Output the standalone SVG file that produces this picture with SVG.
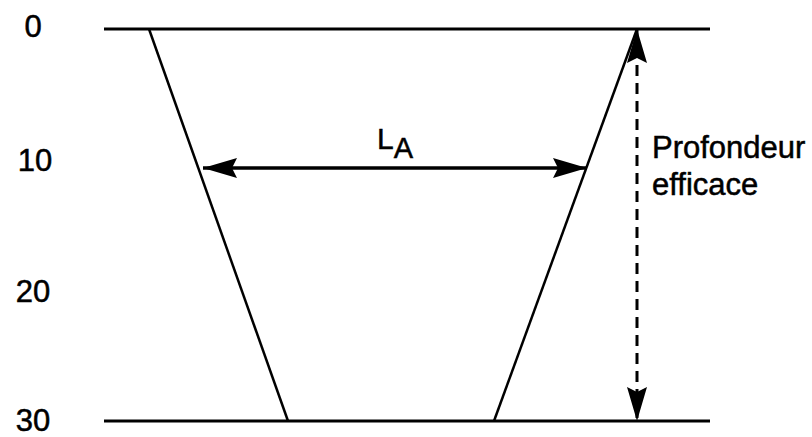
<svg xmlns="http://www.w3.org/2000/svg" width="812" height="437" viewBox="0 0 812 437">
<style>
.ln{stroke:#000;fill:none;stroke-linecap:butt}
.t{font-family:"Liberation Sans",Arial,sans-serif;fill:#000;stroke:#000;stroke-width:0.5}
</style>
<defs>
<marker id="ah" viewBox="0 0 34 20" refX="34" refY="10" markerWidth="34" markerHeight="20" markerUnits="userSpaceOnUse" orient="auto-start-reverse">
<path d="M0,0 L34,10 L0,20 L5,10 Z" fill="#000"/>
</marker>
</defs>
<rect width="812" height="437" fill="#fff"/>
<g id="axis-labels">
<text class="t" x="33" y="37" font-size="31" text-anchor="middle">0</text>
<text class="t" x="35" y="171" font-size="31" text-anchor="middle">10</text>
<text class="t" x="33" y="302" font-size="31" text-anchor="middle">20</text>
<text class="t" x="33" y="431" font-size="31" text-anchor="middle">30</text>
</g>
<g id="trench">
<line class="ln" x1="104" y1="29" x2="710" y2="29" stroke-width="3"/>
<line class="ln" x1="104" y1="421" x2="710" y2="421" stroke-width="3"/>
<line class="ln" x1="149" y1="29" x2="288" y2="421" stroke-width="2.5"/>
<line class="ln" x1="637" y1="29" x2="494" y2="421" stroke-width="2.5"/>
</g>
<g id="connectors">
<line class="ln" x1="203" y1="168" x2="587" y2="168" stroke-width="3.5" marker-start="url(#ah)" marker-end="url(#ah)"/>
<line class="ln" x1="637" y1="29" x2="637" y2="421" stroke-width="3" stroke-dasharray="11 7" marker-start="url(#ah)" marker-end="url(#ah)"/>
</g>
<g id="label-LA">
<text class="t" x="377" y="149" font-size="30">L<tspan font-size="29" dy="9">A</tspan></text>
</g>
<g id="label-profondeur">
<text class="t" x="652" y="158" font-size="31">Profondeur</text>
<text class="t" x="652" y="195" font-size="31">efficace</text>
</g>
</svg>
